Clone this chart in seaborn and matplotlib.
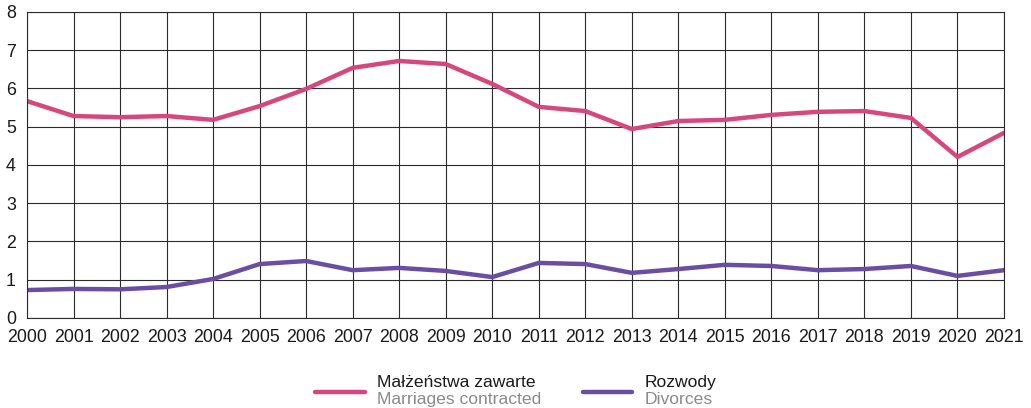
import numpy as np
import pandas as pd
import matplotlib
matplotlib.use("Agg")
import matplotlib.pyplot as plt
import matplotlib.transforms as mtransforms
import seaborn as sns

years = list(range(2000, 2022))
marriages = [5.67, 5.28, 5.25, 5.28, 5.18, 5.54, 5.99, 6.54, 6.72, 6.64, 6.12,
             5.52, 5.41, 4.94, 5.15, 5.18, 5.31, 5.39, 5.41, 5.23, 4.21, 4.84]
divorces = [0.73, 0.76, 0.75, 0.81, 1.02, 1.41, 1.49, 1.25, 1.31, 1.23, 1.07,
            1.44, 1.41, 1.18, 1.28, 1.39, 1.36, 1.25, 1.28, 1.36, 1.10, 1.25]
labels_pl = ["Małżeństwa zawarte", "Rozwody"]
labels_en = ["Marriages contracted", "Divorces"]
colors = ["#d6487d", "#6b4ea3"]

df = pd.DataFrame({"rok": years * 2,
                   "val": marriages + divorces,
                   "seria": [labels_pl[0]] * len(years) + [labels_pl[1]] * len(years)})

sns.set_style("white")
plt.rcParams["font.family"] = ["Liberation Sans", "DejaVu Sans"]

fig = plt.figure(figsize=(10.31, 4.08), dpi=100)
ax = fig.add_axes([0.0262, 0.2206, 0.9476, 0.75])

sns.lineplot(data=df, x="rok", y="val", hue="seria", palette=colors,
             linewidth=3.2, ax=ax, legend=False)

ax.set_xlim(2000, 2021)
ax.set_ylim(0, 8)
ax.set_xticks(years)
ax.set_yticks(range(0, 9))
ax.tick_params(axis="both", length=0, labelsize=12.8, colors="#1a1a1a")
ax.tick_params(axis="x", pad=8)
ax.tick_params(axis="y", pad=8)
ax.grid(True, color="#2b2b2b", linewidth=0.8)
ax.set_axisbelow(True)
for s in ax.spines.values():
    s.set_color("#2b2b2b")
    s.set_linewidth(0.8)
ax.set_xlabel("")
ax.set_ylabel("")

# legenda: polski opis + angielski pod spodem (szary)
handles = [plt.Line2D([], [], color=c, linewidth=3.2) for c in colors]
leg = fig.legend(handles, labels_pl, loc="center",
                 bbox_to_anchor=(0.5, 0.062), ncol=2, frameon=False,
                 fontsize=12.6, handlelength=2.85, handletextpad=0.68,
                 columnspacing=2.7)
shift = mtransforms.ScaledTranslation(0, -8 / 72, fig.dpi_scale_trans)
for ln in leg.get_lines():
    ln.set_transform(ln.get_transform() + shift)

fig.draw_without_rendering()
inv = fig.transFigure.inverted()
for txt, en in zip(leg.get_texts(), labels_en):
    txt.set_color("#1a1a1a")
    bb = txt.get_window_extent()
    x, y = inv.transform((bb.x0, bb.y0 - 17))
    fig.text(x, y, en, ha="left", va="bottom", fontsize=12.6, color="#8a8a8a")

fig.savefig("out.png", dpi=100)
